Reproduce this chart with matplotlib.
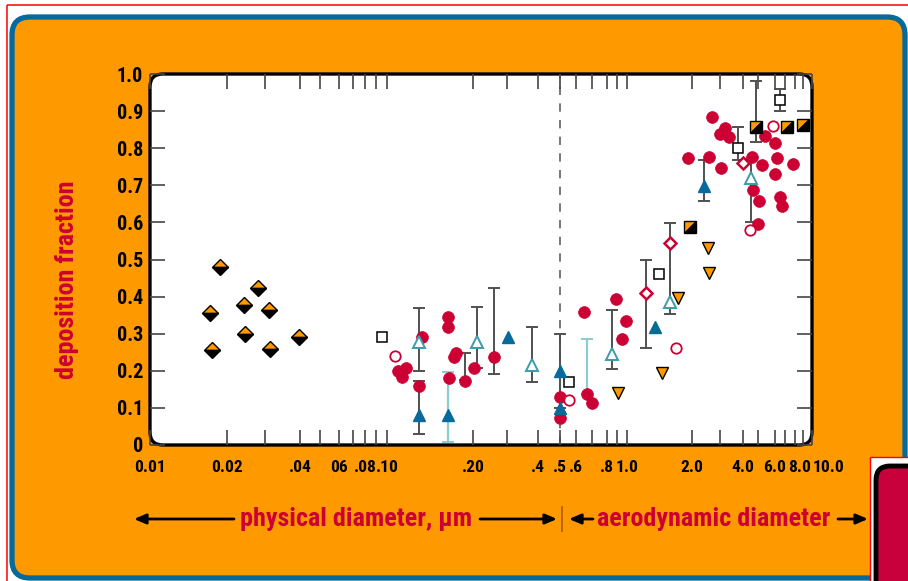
import numpy as np
import matplotlib
matplotlib.use("Agg")
import matplotlib.pyplot as plt
from matplotlib import font_manager as fm
from matplotlib.patches import FancyBboxPatch, Rectangle
from matplotlib.markers import MarkerStyle
from matplotlib.transforms import Affine2D
from matplotlib.ticker import FixedLocator, FixedFormatter

W, H = 908, 581
ORANGE = "#FF9900"
BLUE = "#066A9B"
CRIMSON = "#CC0033"
TEAL = "#3C9CAA"
GREY = "#505050"

# half orange / half black diamonds (ultrafine particles)
dia_x = [0.0187, 0.0172, 0.0174, 0.0241, 0.0277, 0.0311, 0.0242, 0.0312, 0.0397]
dia_y = [0.48, 0.355, 0.256, 0.377, 0.422, 0.364, 0.298, 0.26, 0.292]

# open squares
sq_x = [0.095, 0.553, 1.40, 3.77, 6.48]
sq_y = [0.29, 0.171, 0.46, 0.80, 0.93]

# open red circles
oc_x = [0.107, 0.553, 1.68, 4.44, 5.85]
oc_y = [0.24, 0.121, 0.262, 0.58, 0.861]

# filled red circles
rd_x = [0.109, 0.113, 0.117, 0.133, 0.129,
        0.164, 0.164, 0.175, 0.172, 0.165, 0.187, 0.203, 0.258,
        0.5, 0.5, 0.645, 0.67, 0.70,
        0.89, 0.985, 0.945,
        1.92, 2.55, 2.68, 3.19, 3.0, 3.37, 3.04,
        5.39, 5.97, 4.59, 6.16, 5.24, 7.8, 5.97, 4.67, 5.07, 6.53, 6.7, 5.0]
rd_y = [0.20, 0.184, 0.207, 0.292, 0.159,
        0.344, 0.319, 0.247, 0.236, 0.18, 0.173, 0.207, 0.238,
        0.13, 0.072, 0.358, 0.137, 0.112,
        0.393, 0.334, 0.286,
        0.773, 0.777, 0.885, 0.854, 0.838, 0.829, 0.746,
        0.833, 0.813, 0.777, 0.774, 0.755, 0.757, 0.73, 0.687, 0.658, 0.669, 0.644, 0.595]

# open teal triangles
ot_x = [0.129, 0.209, 0.378, 0.85, 1.58, 4.48]
ot_y = [0.278, 0.278, 0.216, 0.245, 0.386, 0.719]

# filled blue triangles
bt_x = [0.129, 0.163, 0.304, 0.5, 0.5, 1.35, 2.38]
bt_y = [0.081, 0.081, 0.29, 0.20, 0.10, 0.319, 0.698]

# open red diamonds
od_x = [1.22, 1.58, 3.99]
od_y = [0.41, 0.544, 0.761]

# orange down triangles
dt_x = [0.907, 1.46, 1.73, 2.55, 2.51]
dt_y = [0.141, 0.195, 0.397, 0.463, 0.532]

# half orange / black squares
hs_x = [1.96, 4.85, 7.16, 9.0]
hs_y = [0.588, 0.858, 0.858, 0.863]

# error bars (x, low, high)
bar_x = [0.129, 0.129, 0.209, 0.187, 0.258, 0.378, 0.5, 0.85, 1.22, 1.58,
         2.38, 3.77, 4.48, 4.85, 6.48]
bar_lo = [0.20, 0.030, 0.207, 0.175, 0.191, 0.171, 0.10, 0.204, 0.261, 0.352,
          0.658, 0.768, 0.60, 0.818, 0.90]
bar_hi = [0.368, 0.172, 0.373, 0.247, 0.422, 0.317, 0.299, 0.364, 0.50, 0.598,
          0.768, 0.858, 0.77, 0.98, 0.96]
tbar_x = [0.163, 0.67]
tbar_lo = [0.009, 0.137]
tbar_hi = [0.198, 0.285]

# x axis: hand-drawn log-like scale, tick diameters and their pixel positions
tick_d = [0.01, 0.02, 0.03, 0.04, 0.05, 0.06, 0.07, 0.08, 0.09, 0.1, 0.2, 0.3, 0.4,
          0.5, 0.6, 0.7, 0.8, 0.9, 1.0, 2.0, 3.0, 4.0, 5.0, 6.0, 7.0, 8.0, 9.0, 10.0]
tick_px = [150, 227, 265, 300, 320, 339, 353, 365, 376, 387, 473, 507, 538,
           560, 576, 592, 607, 617, 627, 692, 720, 743, 758, 775, 785, 795, 803, 812]
tick_lab = {0.01: "0.01", 0.02: "0.02", 0.04: ".04", 0.06: "06", 0.08: ".08",
            0.1: ".10", 0.2: ".20", 0.4: ".4", 0.5: ".5", 0.6: ".6", 0.8: ".8",
            1.0: "1.0", 2.0: "2.0", 4.0: "4.0", 6.0: "6.0"}
# the last two labels sit a little right of their ticks
late_lab = [(8.0, "8.0", 3.5, "center"), (10.0, "10.0", 0.5, "left")]

log_d = np.log10(tick_d)


def fwd(x):
    x = np.asarray(x, dtype=float)
    return np.interp(np.log10(np.clip(x, 1e-6, None)), log_d, tick_px)


def inv(p):
    return 10 ** np.interp(np.asarray(p, dtype=float), tick_px, log_d)


# narrow bold lettering if some condensed face is installed
installed = {f.name for f in fm.fontManager.ttflist}
FONT, STRETCH, K = ["DejaVu Sans"], "normal", 0.82
for cand in ["Liberation Sans Narrow", "Roboto Condensed", "Arial Narrow",
             "Nimbus Sans Narrow", "Open Sans Condensed"]:
    if cand in installed:
        FONT, K = [cand, "DejaVu Sans"], 1.0
        break
else:
    if any(f.name == "DejaVu Sans" and str(f.stretch) == "condensed"
           for f in fm.fontManager.ttflist):
        STRETCH, K = "condensed", 0.9

fig = plt.figure(figsize=(W / 100, H / 100), dpi=100, facecolor="white")

# background decoration in pixel coordinates
bg = fig.add_axes([0, 0, 1, 1], zorder=0)
bg.set_xlim(0, W)
bg.set_ylim(H, 0)
bg.axis("off")
bg.add_patch(Rectangle((6.5, 4.5), W, H, fill=False, ec="red", lw=1.1))
bg.add_patch(FancyBboxPatch((12, 17), 893, 561, boxstyle="round,pad=0,rounding_size=18",
                            fc=ORANGE, ec=BLUE, lw=3.8))
bg.add_patch(FancyBboxPatch((150, 74), 662, 371, boxstyle="round,pad=0,rounding_size=13",
                            fc="white", ec="black", lw=2.4))
bg.add_patch(Rectangle((869.5, 456.5), 60, 140, fc="white", ec="red", lw=1.0))
bg.add_patch(FancyBboxPatch((876, 466), 60, 130, boxstyle="round,pad=0,rounding_size=14",
                            fc="#C8003C", ec="black", lw=3.5))

arr = dict(arrowstyle="-|>,head_length=0.7,head_width=0.3", color="black", lw=2,
           shrinkA=0, shrinkB=0)
bg.annotate("", xy=(134, 519), xytext=(234, 519), arrowprops=arr)
bg.annotate("", xy=(557, 519), xytext=(480, 519), arrowprops=arr)
bg.annotate("", xy=(569, 519), xytext=(593, 519), arrowprops=arr)
bg.annotate("", xy=(868, 519), xytext=(838, 519), arrowprops=arr)
bg.plot([562, 562], [507, 531], color="#B85C00", lw=1.3)

txt = dict(color=CRIMSON, fontsize=18.8 * K, fontweight="bold", family=FONT,
           fontstretch=STRETCH, ha="center", va="center")
bg.text(356, 519, "physical diameter, \u00b5m", **txt)
bg.text(714, 519, "aerodynamic diameter", **txt)
bg.text(67, 280, "deposition fraction", rotation=90, **txt)

# main plot
ax = fig.add_axes([150 / W, 1 - 445 / H, 662 / W, 371 / H], zorder=1)
ax.set_facecolor("none")
for s in ax.spines.values():
    s.set_visible(False)
ax.set_xscale("function", functions=(fwd, inv))
ax.set_xlim(0.01, 10)
ax.set_ylim(0, 1)

xs = 12.5 * K * K
ax.xaxis.set_major_locator(FixedLocator(tick_d))
ax.xaxis.set_major_formatter(FixedFormatter([tick_lab.get(d, "") for d in tick_d]))
ax.xaxis.set_minor_locator(FixedLocator([]))
yt = np.round(np.arange(0, 1.01, 0.1), 1)
ax.set_yticks(yt)
ax.set_yticklabels(["0"] + [f"{v:.1f}" for v in yt[1:]])
ax.tick_params(axis="both", direction="in", length=11, width=1.2, color="#444444",
               top=True, right=True)
ax.tick_params(axis="x", pad=10.5, labelsize=xs)
ax.tick_params(axis="y", pad=5, labelsize=14.5 * K)
for lbl in ax.get_xticklabels() + ax.get_yticklabels():
    lbl.set_fontweight("bold")
    lbl.set_family(FONT)
    lbl.set_fontstretch(STRETCH)
for d, s, dx, ha in late_lab:
    ax.annotate(s, xy=(d, 0), xycoords=("data", "axes fraction"), xytext=(dx, -10.5),
                textcoords="offset points", ha=ha, va="top", fontsize=xs,
                fontweight="bold", family=FONT, fontstretch=STRETCH)

ax.axvline(0.5, color="#606060", lw=1.2, ls=(0, (5, 5)), zorder=1)

mid = (np.array(bar_lo) + np.array(bar_hi)) / 2
half = (np.array(bar_hi) - np.array(bar_lo)) / 2
ax.errorbar(bar_x, mid, yerr=half, fmt="none", ecolor=GREY, elinewidth=1.4,
            capsize=4.5, capthick=1.4, zorder=2)
tmid = (np.array(tbar_lo) + np.array(tbar_hi)) / 2
thalf = (np.array(tbar_hi) - np.array(tbar_lo)) / 2
ax.errorbar(tbar_x, tmid, yerr=thalf, fmt="none", ecolor="#8CCBD0", elinewidth=1.6,
            capsize=4.5, capthick=1.4, zorder=2)

ax.plot(rd_x, rd_y, "o", ms=8.5, mfc=CRIMSON, mec=CRIMSON, mew=0.5, ls="none", zorder=3)
ax.plot(dia_x, dia_y, ls="none", marker="D", ms=8.5, fillstyle="top", mfc=ORANGE,
        mfcalt="black", mec="black", mew=1, zorder=4)
ax.plot(sq_x, sq_y, "s", ms=7, mfc="white", mec="black", mew=1.1, ls="none", zorder=4)
ax.plot(oc_x, oc_y, "o", ms=7.5, mfc="white", mec=CRIMSON, mew=1.3, ls="none", zorder=4)
ax.plot(ot_x, ot_y, "^", ms=8.5, mfc="white", mec=TEAL, mew=1.4, ls="none", zorder=4)
ax.plot(bt_x, bt_y, "^", ms=8.5, mfc=BLUE, mec=BLUE, ls="none", zorder=4)
ax.plot(od_x, od_y, "D", ms=6.5, mfc="white", mec=CRIMSON, mew=1.8, ls="none", zorder=4)
ax.plot(dt_x, dt_y, "v", ms=9, mfc=ORANGE, mec="black", mew=1, ls="none", zorder=4)
half_sq = MarkerStyle("D", fillstyle="top", transform=Affine2D().rotate_deg(45))
ax.plot(hs_x, hs_y, ls="none", marker=half_sq, ms=8.5, mfc=ORANGE, mfcalt="black",
        mec="black", mew=1, zorder=4)

fig.savefig("out.png", dpi=100, facecolor="white")
